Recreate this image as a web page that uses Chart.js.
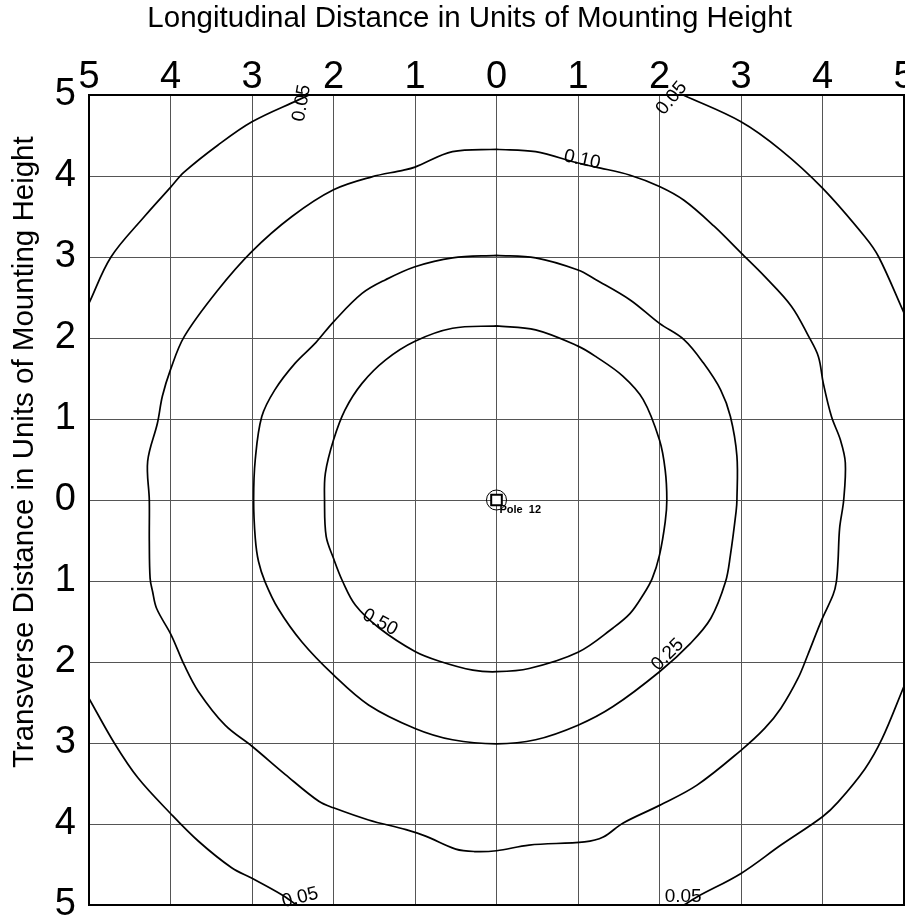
<!DOCTYPE html>
<html>
<head>
<meta charset="utf-8">
<script src="https://cdn.jsdelivr.net/npm/chart.js@4.4.1/dist/chart.umd.min.js"></script>
<style>
  html, body { margin: 0; padding: 0; background: #fff; overflow: hidden; }
  #wrap { width: 905px; height: 917px; position: relative; }
  canvas { display: block; }
</style>
</head>
<body>
<div id="wrap"><canvas id="isoChart"></canvas></div>
<script>
// Axis ticks (distance in mounting heights, shown without sign)
const axisMin = -5;
const axisMax = 5;
const tickStep = 1;
const xTitle = 'Longitudinal Distance in Units of Mounting Height';
const yTitle = 'Transverse Distance in Units of Mounting Height';

// Iso-footcandle contours (x = longitudinal, y = transverse)
const c050X = [0, -0.54, -1.0, -1.36, -1.65, -1.86, -2.0, -2.1, -2.11, -2.09, -2.0, -1.89, -1.73, -1.44, -1.0, -0.7, -0.29, 0, 0.4, 1.0, 1.43, 1.64, 1.8, 1.91, 2.0, 2.07, 2.09, 2.07, 2.0, 1.8, 1.55, 1.22, 1.0, 0.48, 0];
const c050Y = [2.15, 2.12, 1.96, 1.73, 1.44, 1.11, 0.74, 0.33, 0, -0.45, -0.72, -1.0, -1.3, -1.58, -1.87, -1.99, -2.1, -2.12, -2.08, -1.88, -1.58, -1.4, -1.17, -0.97, -0.68, -0.27, 0, 0.37, 0.74, 1.24, 1.53, 1.77, 1.9, 2.1, 2.15];

const c025X = [0, -0.54, -1.0, -1.36, -1.65, -2.0, -2.22, -2.47, -2.72, -2.88, -2.96, -2.98, -2.96, -2.92, -2.84, -2.68, -2.39, -2.0, -1.57, -1.0, -0.54, 0, 0.48, 1.0, 1.43, 2.0, 2.38, 2.63, 2.81, 2.87, 2.94, 2.95, 2.95, 2.87, 2.75, 2.54, 2.3, 2.0, 1.64, 1.22, 1.0, 0.48, 0];
const c025Y = [3.02, 2.99, 2.88, 2.72, 2.55, 2.2, 1.94, 1.69, 1.36, 1.03, 0.5, 0, -0.47, -0.76, -1.01, -1.34, -1.75, -2.16, -2.53, -2.82, -2.96, -3.01, -2.96, -2.78, -2.55, -2.12, -1.77, -1.46, -1.01, -0.68, -0.14, 0, 0.54, 1.03, 1.36, 1.69, 1.98, 2.18, 2.47, 2.72, 2.84, 2.99, 3.02];

const c010X = [0, -0.54, -1.0, -1.15, -1.53, -2.0, -2.51, -3.0, -3.42, -3.83, -4.0, -4.1, -4.16, -4.28, -4.26, -4.26, -4.25, -4.22, -4.17, -3.99, -3.83, -3.66, -3.33, -3.0, -2.59, -2.18, -2.0, -1.57, -1.11, -0.87, -0.5, -0.27, 0, 0.4, 1.08, 1.31, 1.55, 2.0, 2.46, 3.0, 3.29, 3.49, 3.7, 3.82, 3.99, 4.13, 4.17, 4.19, 4.21, 4.26, 4.28, 4.22, 4.11, 4.01, 3.95, 3.83, 3.62, 3.29, 3.0, 2.67, 2.3, 2.0, 1.64, 1.22, 1.0, 0.48, 0];
const c010Y = [4.33, 4.30, 4.11, 4.07, 3.99, 3.83, 3.5, 3.07, 2.59, 2.02, 1.61, 1.28, 0.95, 0.48, 0, -0.5, -0.97, -1.13, -1.34, -1.67, -2.04, -2.36, -2.78, -3.04, -3.39, -3.72, -3.8, -3.95, -4.07, -4.15, -4.31, -4.34, -4.33, -4.26, -4.22, -4.16, -3.99, -3.77, -3.52, -3.09, -2.82, -2.57, -2.2, -1.91, -1.48, -1.17, -1.01, -0.76, -0.35, 0, 0.46, 0.74, 1.03, 1.44, 1.77, 2.02, 2.39, 2.76, 3.05, 3.38, 3.7, 3.87, 4.01, 4.11, 4.16, 4.30, 4.33];

// 0.05 contour leaves the grid, so it shows as four corner arcs
const c005aX = [-5, -4.73, -4.32, -4.0, -3.83, -3.42, -3.0, -2.43, -2.3];
const c005aY = [2.43, 3.0, 3.5, 3.86, 4.05, 4.38, 4.67, 4.94, 5.0];
const c005bX = [2.29, 3.0, 3.49, 4.0, 4.52, 4.69, 5.0];
const c005bY = [5.0, 4.67, 4.32, 3.85, 3.25, 3.0, 2.31];
const c005cX = [-5, -4.69, -4.4, -4.0, -3.66, -3.25, -3.0, -2.64, -2.45];
const c005cY = [-2.45, -3.0, -3.43, -3.87, -4.21, -4.54, -4.67, -4.87, -5.0];
const c005dX = [5.0, 4.73, 4.52, 4.19, 4.0, 3.49, 3.0, 2.46, 2.3];
const c005dY = [-2.3, -2.95, -3.32, -3.73, -3.91, -4.26, -4.61, -4.9, -5.0];

// Luminaire location
const poleX = [0];
const poleY = [0];
const poleName = 'Pole  12';

// Contour value labels: text, anchor (data units), rotation in degrees
const contourLabels = [
    { text: '0.05', x: -2.39, y: 4.9, angle: -80 },
    { text: '0.05', x: 2.15, y: 4.96, angle: -50 },
    { text: '0.10', x: 1.05, y: 4.2, angle: 12 },
    { text: '0.50', x: -1.43, y: -1.51, angle: 28 },
    { text: '0.25', x: 2.1, y: -1.91, angle: -45 },
    { text: '0.05', x: -2.41, y: -4.91, angle: -14 },
    { text: '0.05', x: 2.29, y: -4.9, angle: 0 }
];

function toPoints(xs, ys) {
    return xs.map((x, i) => ({ x: x, y: ys[i] }));
}

function contourSet(xs, ys) {
    return {
        data: toPoints(xs, ys),
        showLine: true,
        borderColor: '#000',
        borderWidth: 1.7,
        pointRadius: 0,
        tension: 0.35,
        fill: false
    };
}

const datasets = [
    contourSet(c050X, c050Y),
    contourSet(c025X, c025Y),
    contourSet(c010X, c010Y),
    contourSet(c005aX, c005aY),
    contourSet(c005bX, c005bY),
    contourSet(c005cX, c005cY),
    contourSet(c005dX, c005dY),
    // pole ring, square head and centre dot
    { data: toPoints(poleX, poleY), pointStyle: 'circle', pointRadius: 10, borderColor: '#000', borderWidth: 1, backgroundColor: 'rgba(0,0,0,0)' },
    { data: toPoints(poleX, poleY), pointStyle: 'rect', pointRadius: 7.5, borderColor: '#000', borderWidth: 2, backgroundColor: '#fff' },
    { data: toPoints(poleX, poleY), pointStyle: 'circle', pointRadius: 2.4, borderColor: '#000', borderWidth: 0, backgroundColor: '#000' }
];

const fontFamily = '"Liberation Sans", Arial, sans-serif';
const tickFont = { family: fontFamily, size: 38 };
const tickLabel = (v) => Math.abs(v);
const plotPad = { right: 1, bottom: 12 };

const annotatePlugin = {
    id: 'annotate',
    // the layout leaves a gap on the right; stretch plot area and x scale to the edge
    afterLayout(chart) {
        const area = chart.chartArea;
        const right = chart.width - plotPad.right;
        const bottom = chart.height - plotPad.bottom;
        area.right = right;
        area.width = right - area.left;
        area.bottom = bottom;
        area.height = bottom - area.top;
        const xs = chart.scales.x;
        xs.right = right;
        xs.width = right - xs.left;
        xs.configure();
        const ys = chart.scales.y;
        ys.top = area.top;
        ys.bottom = bottom;
        ys.height = bottom - ys.top;
        ys.configure();
    },
    // frame, top tick labels, axis titles (off-centre as in the original),
    // contour labels and pole name
    afterDatasetsDraw(chart) {
        const { ctx, chartArea, scales } = chart;
        ctx.save();
        ctx.strokeStyle = '#000';
        ctx.lineWidth = 2;
        ctx.strokeRect(chartArea.left, chartArea.top, chartArea.right - chartArea.left, chartArea.bottom - chartArea.top);

        ctx.fillStyle = '#000';
        ctx.textAlign = 'center';
        ctx.textBaseline = 'alphabetic';
        ctx.font = tickFont.size + 'px ' + fontFamily;
        scales.x.ticks.forEach(t => {
            ctx.fillText(String(tickLabel(t.value)), scales.x.getPixelForValue(t.value), chartArea.top - 7);
        });

        ctx.textBaseline = 'middle';
        ctx.font = '29.5px ' + fontFamily;
        ctx.fillText(xTitle, scales.x.getPixelForValue(-0.33), 19);
        ctx.save();
        ctx.translate(25, scales.y.getPixelForValue(0.59));
        ctx.rotate(-Math.PI / 2);
        ctx.fillText(yTitle, 0, 0);
        ctx.restore();

        ctx.font = '19px ' + fontFamily;
        contourLabels.forEach(l => {
            ctx.save();
            ctx.translate(scales.x.getPixelForValue(l.x), scales.y.getPixelForValue(l.y));
            ctx.rotate(l.angle * Math.PI / 180);
            ctx.fillText(l.text, 0, 0);
            ctx.restore();
        });

        ctx.font = 'bold 11px ' + fontFamily;
        ctx.textAlign = 'left';
        ctx.textBaseline = 'alphabetic';
        ctx.fillText(poleName, scales.x.getPixelForValue(poleX[0]) + 3, scales.y.getPixelForValue(poleY[0]) + 13);
        ctx.restore();
    }
};

new Chart(document.getElementById('isoChart'), {
    type: 'scatter',
    data: { datasets: datasets },
    options: {
        responsive: true,
        maintainAspectRatio: false,
        animation: false,
        layout: { padding: plotPad },
        plugins: {
            legend: { display: false },
            tooltip: { enabled: false }
        },
        scales: {
            x: {
                type: 'linear',
                position: 'top',
                min: axisMin,
                max: axisMax,
                afterFit: (scale) => { scale.height = 95; },
                border: { display: false },
                grid: { color: '#555', lineWidth: 1, drawTicks: false },
                // labels are drawn by the plugin so the end ticks do not squeeze the plot
                ticks: { stepSize: tickStep, display: false }
            },
            y: {
                type: 'linear',
                position: 'left',
                min: axisMin,
                max: axisMax,
                afterFit: (scale) => {
                    scale.width = 89;
                    scale.paddingTop = 0;
                    scale.paddingBottom = 0;
                },
                border: { display: false },
                grid: { color: '#555', lineWidth: 1, drawTicks: false },
                ticks: {
                    stepSize: tickStep,
                    padding: 13,
                    color: '#000',
                    font: tickFont,
                    callback: tickLabel
                }
            }
        }
    },
    plugins: [annotatePlugin]
});
</script>
</body>
</html>
